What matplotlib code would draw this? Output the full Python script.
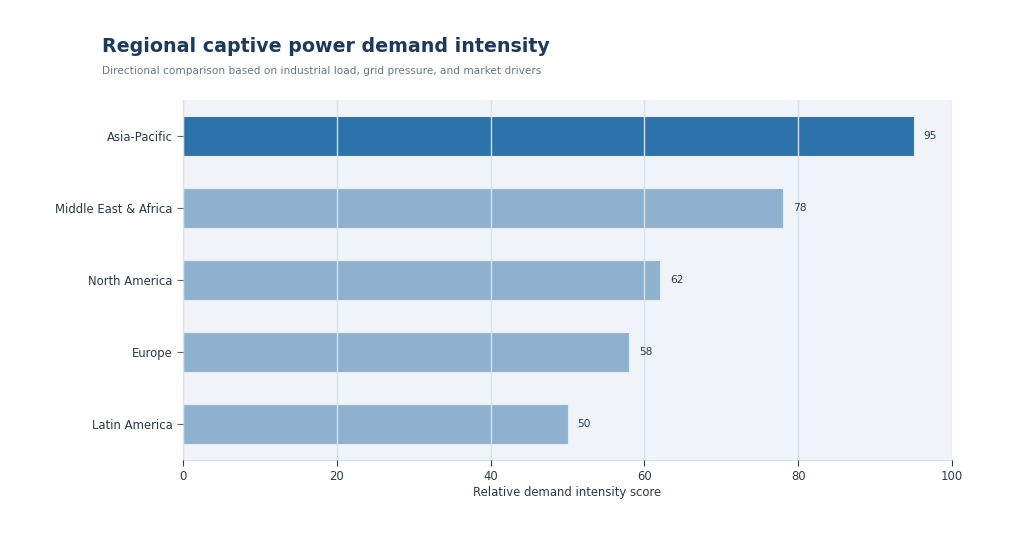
import matplotlib.pyplot as plt

# Dados
regioes = ['Asia-Pacific', 'Middle East & Africa', 'North America', 'Europe', 'Latin America']
scores = [95, 78, 62, 58, 50]

cor_destaque = '#2c73ac'
cor_base = '#8fb1d0'
cores = [cor_destaque] + [cor_base] * (len(regioes) - 1)

fig = plt.figure(figsize=(10.17, 5.52), dpi=100)
ax = fig.add_axes([183 / 1017, 1 - 460 / 552, (952 - 183) / 1017, 360 / 552])
ax.set_facecolor('#f0f4f8')

posicoes = range(len(regioes))
bars = ax.barh(posicoes, scores, height=0.55, color=cores, edgecolor='#e6eef5',
               linewidth=0.8, zorder=2)
ax.set_yticks(list(posicoes))
ax.set_yticklabels(regioes)
ax.set_ylim(4.5, -0.5)
ax.set_xlim(0, 100)
ax.set_xticks([0, 20, 40, 60, 80, 100])

ax.grid(axis='x', color='#d8e1ea', linewidth=1, zorder=3)
ax.set_axisbelow(False)
for s in ['top', 'right']:
    ax.spines[s].set_visible(False)
for s in ['left', 'bottom']:
    ax.spines[s].set_color('#d8e1ea')
ax.tick_params(axis='both', colors='#2b3a4f', labelsize=8.4, length=4)
ax.tick_params(axis='y', color='#5a6676')
ax.tick_params(axis='x', color='#2b3a4f')

ax.set_xlabel('Relative demand intensity score', fontsize=8.4, color='#2b3a4f', labelpad=2)

# Valores ao lado de cada barra
for bar, v in zip(bars, scores):
    ax.text(v + 1.3, bar.get_y() + bar.get_height() / 2, f'{v}',
            va='center', ha='left', fontsize=7.7, color='#2b3a4f')

fig.text(102 / 1017, 1 - 47 / 552, 'Regional captive power demand intensity',
         fontsize=13.7, fontweight='bold', color='#1b3a5e', va='center', ha='left')
fig.text(102 / 1017, 1 - 71.5 / 552,
         'Directional comparison based on industrial load, grid pressure, and market drivers',
         fontsize=7.6, color='#6b7889', va='center', ha='left')

fig.savefig('out.png', dpi=100)
